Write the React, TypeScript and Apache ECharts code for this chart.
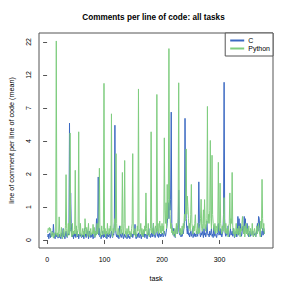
import React, { useEffect, useRef } from "react";
import * as echarts from "echarts";

const TITLE = "Comments per line of code: all tasks";
const X_LABEL = "task";
const Y_LABEL = "line of comment per line of code (mean)";
const SERIES_NAMES = ["C", "Python"];
const X_TICKS = [0, 100, 200, 300];
const Y_TICK_POS = [0, 1, 2, 3, 4, 5, 6];
const Y_TICK_LABELS = ["0", "1", "2", "4", "7", "12", "22"];
const LOG_STEP = 0.52;

// mean comment lines per code line, task 1..378
const C_VALUES = [
  0.05, 0.1, 0.02, 0.08, 0.12, 0.04, 0.1, 0.06, 0.15, 0.08, 0.28, 0.1, 0.05, 0.02, 0.12, 0.08, 0.05, 0.1, 0.03, 0.06,
  0.1, 0.04, 0.08, 0.02, 0.12, 0.06, 0.1, 0.2, 0.05, 0.08, 0.02, 0.1, 0.15, 0.06, 0.04, 0.1, 0.08, 0.12, 5.3, 0.15,
  1.1, 0.3, 0.08, 0.05, 0.1, 0.02, 0.12, 0.06, 0.1, 0.04, 0.08, 0.15, 0.05, 0.1, 0.02, 0.08, 0.12, 0.06, 0.1, 0.04,
  0.08, 0.05, 0.1, 0.02, 0.2, 0.06, 0.1, 0.04, 0.18, 0.08, 0.15, 0.02, 0.06, 0.15, 0.1, 0.04, 0.08, 0.05, 0.1, 0.02,
  0.06, 0.1, 0.04, 0.08, 0.12, 0.4, 0.1, 0.15, 1.7, 0.08, 0.2, 0.05, 0.1, 0.02, 0.08, 0.06, 0.15, 0.04, 0.1, 0.05,
  0.08, 0.04, 0.1, 0.02, 0.06, 0.12, 0.05, 0.1, 0.08, 0.03, 0.1, 0.15, 0.06, 0.04, 0.1, 0.08, 0.3, 5.1, 0.2, 0.1,
  0.05, 0.1, 0.04, 0.08, 0.02, 0.25, 0.06, 0.1, 0.04, 0.08, 0.12, 0.05, 0.02, 0.1, 0.06, 0.04, 0.08, 0.1, 0.02, 0.06,
  0.1, 0.04, 0.06, 0.02, 0.08, 0.12, 0.05, 0.1, 0.04, 0.08, 0.15, 0.1, 0.28, 0.06, 0.02, 0.08, 0.1, 0.04, 0.12, 0.06,
  0.04, 0.1, 0.06, 0.02, 0.08, 0.12, 0.05, 0.1, 0.15, 0.04, 0.08, 0.1, 0.06, 0.02, 0.12, 0.08, 0.2, 0.05, 0.1, 0.04,
  0.08, 0.12, 0.05, 0.1, 0.3, 0.06, 0.1, 0.04, 0.08, 0.15, 0.2, 0.06, 0.1, 0.04, 0.12, 0.08, 0.05, 0.1, 0.06, 0.12,
  0.1, 0.05, 0.08, 0.15, 0.1, 0.06, 0.12, 0.2, 0.3, 0.5, 0.8, 0.4, 1.2, 0.6, 0.9, 6.5, 0.3, 0.15, 0.1, 0.2,
  0.06, 0.1, 0.04, 0.15, 0.2, 0.25, 0.1, 0.15, 1.2, 0.3, 0.08, 0.12, 0.05, 0.1, 0.06, 0.15, 0.1, 0.2, 0.3, 5.8,
  1.0, 0.4, 0.2, 0.1, 0.25, 0.08, 0.12, 0.05, 0.1, 0.15, 0.06, 0.1, 0.2, 0.04, 0.08, 0.12, 0.06, 0.1, 0.05, 0.15,
  0.1, 0.06, 0.2, 1.5, 0.3, 0.1, 0.05, 0.12, 0.08, 0.15, 0.1, 0.04, 0.2, 0.08, 0.12, 0.05, 0.1, 0.35, 0.15, 0.08,
  0.1, 0.05, 0.15, 0.08, 0.12, 0.2, 0.06, 0.1, 0.04, 0.25, 0.1, 0.06, 0.15, 0.08, 0.04, 0.1, 0.12, 0.3, 0.08, 0.1,
  0.2, 0.08, 0.12, 0.05, 0.1, 0.15, 0.5, 11.0, 0.4, 0.1, 0.06, 0.15, 0.08, 0.1, 0.25, 0.12, 0.05, 0.1, 0.2, 0.08,
  0.1, 0.15, 0.06, 0.2, 0.1, 0.04, 0.12, 0.08, 0.15, 0.05, 0.1, 0.45, 0.08, 0.4, 0.1, 0.3, 0.15, 0.06, 0.1, 0.2,
  0.25, 0.1, 0.45, 0.2, 0.4, 0.15, 0.1, 0.3, 0.08, 0.12, 0.05, 0.1, 0.15, 0.06, 0.1, 0.08, 0.12, 0.15, 0.05, 0.1,
  0.08, 0.12, 0.05, 0.1, 0.2, 0.3, 0.15, 0.45, 0.41, 0.2, 0.1, 0.15, 0.05, 0.1, 0.2, 0.08, 0.2, 0.1,
];

const PYTHON_VALUES = [
  0.12, 0.2, 0.18, 0.22, 0.15, 0.2, 0.08, 0.05, 0.14, 0.1, 0.03, 0.12, 0.06, 0.1, 0.15, 22, 0.08, 0.12, 0.05, 0.1,
  0.44, 0.15, 0.05, 0.1, 0.22, 0.08, 0.02, 0.12, 0.18, 0.06, 0.1, 0.25, 1.8, 0.2, 0.05, 0.12, 0.3, 0.1, 0.08, 4.4,
  0.2, 0.12, 0.05, 0.3, 0.08, 0.15, 0.1, 0.18, 2.0, 0.1, 0.25, 0.06, 0.12, 0.2, 4.5, 0.15, 0.08, 0.3, 0.1, 0.05,
  0.12, 0.2, 0.08, 0.15, 0.05, 0.4, 0.18, 0.1, 0.22, 0.06, 0.12, 0.3, 0.1, 0.05, 0.15, 0.2, 0.08, 0.12, 0.1, 0.28,
  0.1, 0.22, 0.05, 0.15, 0.12, 0.08, 0.3, 0.1, 0.2, 0.35, 2.1, 0.15, 0.05, 0.1, 0.25, 0.12, 0.08, 0.18, 10.8, 0.1,
  0.2, 0.05, 0.15, 0.1, 0.3, 0.12, 0.08, 0.2, 0.1, 0.25, 0.15, 6.3, 0.1, 0.05, 0.2, 0.12, 0.3, 0.4, 0.15, 2.9,
  0.3, 0.1, 0.08, 0.2, 0.12, 0.05, 0.15, 0.25, 0.1, 0.2, 1.9, 0.12, 0.08, 0.3, 2.5, 0.1, 0.15, 0.05, 0.2, 0.1,
  0.12, 0.25, 0.08, 0.15, 0.1, 0.05, 0.2, 0.3, 2.9, 0.1, 0.15, 0.08, 0.2, 0.12, 0.05, 0.1, 0.25, 0.15, 9.8, 0.2,
  0.1, 0.15, 0.3, 0.08, 0.2, 0.12, 0.05, 0.18, 0.1, 0.25, 0.15, 1.1, 0.2, 0.08, 0.12, 0.3, 0.1, 0.05, 0.15, 0.2,
  4.5, 0.12, 0.2, 0.1, 0.3, 0.15, 0.08, 0.2, 0.25, 0.12, 8.9, 0.15, 0.3, 0.1, 0.2, 0.35, 0.12, 0.25, 0.1, 0.3,
  0.15, 0.25, 0.1, 4.0, 0.6, 0.3, 0.8, 0.2, 1.4, 0.4, 0.9, 19.4, 1.0, 0.5, 0.2, 0.3, 0.12, 0.2, 0.08, 0.15,
  0.1, 0.2, 0.05, 0.15, 0.3, 0.1, 0.2, 0.4, 10.9, 0.3, 0.12, 0.2, 0.08, 0.15, 0.25, 0.1, 0.3, 0.2, 0.5, 0.35,
  0.6, 3.2, 0.5, 1.0, 0.7, 0.4, 0.2, 0.3, 0.15, 0.5, 1.4, 0.3, 0.2, 0.1, 0.25, 0.15, 0.3, 0.49, 0.2, 0.1,
  0.15, 0.3, 0.1, 0.2, 0.12, 0.25, 0.4, 0.9, 0.2, 0.15, 0.3, 0.61, 0.2, 0.89, 0.3, 0.15, 0.25, 0.4, 7.2, 0.3,
  0.5, 0.3, 0.6, 3.8, 0.4, 0.2, 2.8, 0.5, 0.3, 0.2, 0.15, 0.3, 0.1, 0.25, 0.2, 0.12, 0.3, 2.4, 0.2, 0.15,
  1.45, 0.3, 0.2, 0.1, 0.25, 0.15, 0.3, 0.95, 0.2, 0.12, 0.3, 0.1, 0.2, 0.15, 0.05, 0.25, 0.3, 1.1, 0.2, 0.4,
  0.3, 1.9, 0.25, 0.1, 0.2, 0.15, 0.05, 0.12, 0.3, 0.1, 0.2, 0.08, 0.15, 0.25, 0.1, 0.05, 0.2, 0.15, 0.3, 0.45,
  0.2, 0.1, 0.25, 0.05, 0.15, 0.3, 0.1, 0.2, 0.08, 0.12, 0.25, 0.05, 0.1, 0.2, 0.15, 0.08, 0.3, 0.1, 0.05, 0.15,
  0.2, 0.1, 0.05, 0.15, 0.25, 0.1, 0.2, 0.3, 0.15, 0.1, 0.05, 0.35, 0.2, 1.6, 0.4, 0.15, 0.3, 0.1,
];

const C_COLOR = "#3a68c2";
const PY_COLOR = "#7fcd7f";
const FONT = "'Liberation Sans', Arial, Helvetica, sans-serif";

const tf = (v: number) => Math.log1p(v) / LOG_STEP;
const toPairs = (vals: number[]) => vals.map((v, i) => [i + 1, tf(v)]);

export default function App() {
  const ref = useRef<HTMLDivElement>(null);
  useEffect(() => {
    if (!ref.current) return;
    const chart = echarts.init(ref.current, null, { renderer: "svg" });
    const n = Math.max(C_VALUES.length, PYTHON_VALUES.length);
    const xr = n - 1;
    const allT = [...C_VALUES, ...PYTHON_VALUES].map(tf);
    const tMax = Math.max(...allT);
    const tMin = 0;
    const yr = tMax - tMin;
    chart.setOption({
      animation: false,
      backgroundColor: "#ffffff",
      textStyle: { fontFamily: FONT },
      grid: {
        left: 34,
        right: 18,
        top: 33,
        bottom: 43,
        show: true,
        borderColor: "#555555",
        borderWidth: 1,
        backgroundColor: "transparent",
      },
      graphic: [
        {
          type: "text",
          x: 153.5,
          y: 17,
          style: {
            text: TITLE,
            textAlign: "center",
            textVerticalAlign: "middle",
            fontFamily: FONT,
            fontWeight: "bold",
            fontSize: 8.2,
            fill: "#000",
          },
        },
      ],
      legend: {
        orient: "vertical",
        right: 18,
        top: 33,
        padding: [4, 3, 4, 5],
        itemGap: 1,
        itemWidth: 14,
        itemHeight: 2,
        icon: "rect",
        borderColor: "#555555",
        borderWidth: 1,
        borderRadius: 0,
        backgroundColor: "#ffffff",
        textStyle: { fontSize: 7, color: "#000", fontFamily: FONT, padding: [0, 0, 0, -1] },
        data: SERIES_NAMES,
      },
      xAxis: {
        type: "value",
        min: 1 - 0.04 * xr,
        max: n + 0.04 * xr,
        name: X_LABEL,
        nameLocation: "middle",
        nameGap: 27,
        nameTextStyle: { fontSize: 7.2, color: "#000", fontFamily: FONT },
        axisLine: { show: false },
        splitLine: { show: false },
        axisTick: { show: true, length: 4, customValues: X_TICKS, lineStyle: { color: "#555" } },
        axisLabel: {
          customValues: X_TICKS,
          fontSize: 7,
          color: "#000",
          margin: 8,
          fontFamily: FONT,
        },
      },
      yAxis: {
        type: "value",
        min: tMin - 0.04 * yr,
        max: tMax + 0.04 * yr,
        name: Y_LABEL,
        nameLocation: "middle",
        nameGap: 24,
        nameRotate: 90,
        nameTextStyle: { fontSize: 7.2, color: "#000", fontFamily: FONT },
        axisLine: { show: false },
        splitLine: { show: false },
        axisTick: { show: true, length: 4, customValues: Y_TICK_POS, lineStyle: { color: "#555" } },
        axisLabel: {
          customValues: Y_TICK_POS,
          formatter: (v: number) => Y_TICK_LABELS[Math.round(v)] ?? "",
          rotate: 90,
          fontSize: 7,
          color: "#000",
          margin: 7,
          fontFamily: FONT,
        },
      },
      series: [
        {
          name: SERIES_NAMES[0],
          type: "line",
          data: toPairs(C_VALUES),
          symbol: "none",
          color: C_COLOR,
          lineStyle: { width: 1, color: C_COLOR },
          z: 2,
        },
        {
          name: SERIES_NAMES[1],
          type: "line",
          data: toPairs(PYTHON_VALUES),
          symbol: "none",
          color: PY_COLOR,
          lineStyle: { width: 1, color: PY_COLOR },
          z: 3,
        },
      ],
    });
    return () => chart.dispose();
  }, []);
  return (
    <div
      ref={ref}
      style={{ position: "absolute", left: 0, top: 0, width: 291, height: 291, background: "#fff" }}
    />
  );
}
